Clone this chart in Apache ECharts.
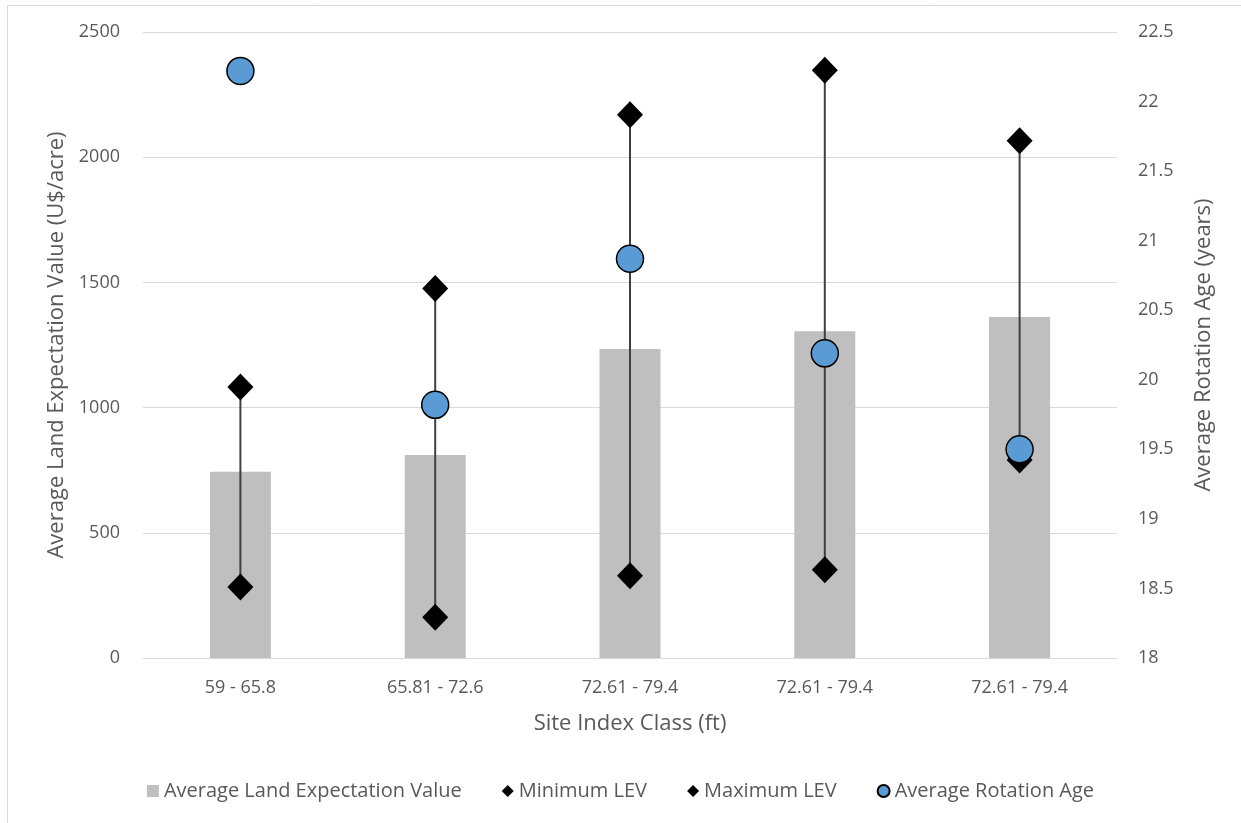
<!DOCTYPE html>
<html>
<head>
<meta charset="utf-8">
<title>Land Expectation Value by Site Index Class</title>
<script src="https://cdn.jsdelivr.net/npm/echarts@6/dist/echarts.min.js"></script>
<style>
  html, body { margin: 0; padding: 0; background: #ffffff; }
  #chart { width: 1241px; height: 823px; }
</style>
</head>
<body>
<div id="chart"></div>
<script>
// Site index classes (ft)
const categories = ['59 - 65.8', '65.81 - 72.6', '72.61 - 79.4', '72.61 - 79.4', '72.61 - 79.4'];
// Average land expectation value (U$/acre)
const avgLEV = [744, 811, 1234, 1305, 1362];
// Minimum and maximum LEV per class (U$/acre)
const minLEV = [284, 163, 328, 352, 791];
const maxLEV = [1082, 1476, 2170, 2347, 2066];
// Average rotation age (years)
const rotationAge = [22.22, 19.82, 20.87, 20.19, 19.50];
// Axis ticks
const levTicks = { min: 0, max: 2500, interval: 500 };
const ageTicks = { min: 18, max: 22.5, interval: 0.5 };

const FONT = 'Open Sans';
const TEXT = '#595959';
const GRID = '#d9d9d9';

const chart = echarts.init(document.getElementById('chart'), null, { renderer: 'canvas' });

const rangeData = categories.map((c, i) => [i, minLEV[i], maxLEV[i]]);

chart.setOption({
  backgroundColor: '#ffffff',
  animation: false,
  textStyle: { fontFamily: FONT, color: TEXT },
  graphic: [
    { type: 'line', shape: { x1: 7.5, y1: 5, x2: 7.5, y2: 823 }, style: { stroke: GRID, lineWidth: 1 }, silent: true },
    { type: 'line', shape: { x1: 7, y1: 5.5, x2: 1241, y2: 5.5 }, style: { stroke: GRID, lineWidth: 1 }, silent: true }
  ],
  grid: { left: 143, right: 124, top: 32, bottom: 165, containLabel: false },
  legend: {
    bottom: 17,
    left: 'center',
    itemWidth: 12,
    itemHeight: 12,
    itemGap: 40,
    textStyle: { fontFamily: FONT, fontSize: 20, color: TEXT },
    data: [
      { name: 'Average Land Expectation Value', icon: 'rect' },
      { name: 'Minimum LEV', icon: 'diamond' },
      { name: 'Maximum LEV', icon: 'diamond' },
      { name: 'Average Rotation Age', icon: 'circle' }
    ]
  },
  xAxis: {
    type: 'category',
    data: categories,
    name: 'Site Index Class (ft)',
    nameLocation: 'middle',
    nameGap: 55,
    nameTextStyle: { fontFamily: FONT, fontSize: 22, color: TEXT },
    axisLine: { lineStyle: { color: GRID, width: 1 } },
    axisTick: { show: false },
    axisLabel: { fontFamily: FONT, fontSize: 18, color: TEXT, margin: 21, interval: 0 }
  },
  yAxis: [
    {
      type: 'value',
      min: levTicks.min, max: levTicks.max, interval: levTicks.interval,
      name: 'Average Land Expectation Value (U$/acre)',
      nameLocation: 'middle',
      nameGap: 74,
      nameRotate: 90,
      nameTextStyle: { fontFamily: FONT, fontSize: 22, color: TEXT },
      axisLine: { show: false },
      axisTick: { show: false },
      axisLabel: { fontFamily: FONT, fontSize: 18, color: TEXT, margin: 23, formatter: v => String(v) },
      splitLine: { lineStyle: { color: GRID, width: 1 } }
    },
    {
      type: 'value',
      min: ageTicks.min, max: ageTicks.max, interval: ageTicks.interval,
      name: 'Average Rotation Age (years)',
      nameLocation: 'middle',
      nameGap: 76,
      nameRotate: 90,
      nameTextStyle: { fontFamily: FONT, fontSize: 22, color: TEXT },
      axisLine: { show: false },
      axisTick: { show: false },
      axisLabel: { fontFamily: FONT, fontSize: 18, color: TEXT, margin: 21, formatter: v => String(v) },
      splitLine: { show: false }
    }
  ],
  series: [
    {
      name: 'Average Land Expectation Value',
      type: 'bar',
      data: avgLEV,
      barWidth: 61,
      itemStyle: { color: '#bfbfbf' },
      z: 2
    },
    {
      name: 'High-Low',
      type: 'custom',
      data: rangeData,
      z: 3,
      silent: true,
      renderItem: function (params, api) {
        const lo = api.coord([api.value(0), api.value(1)]);
        const hi = api.coord([api.value(0), api.value(2)]);
        return {
          type: 'line',
          shape: { x1: lo[0], y1: lo[1], x2: hi[0], y2: hi[1] },
          style: { stroke: '#404040', lineWidth: 2 }
        };
      }
    },
    {
      name: 'Minimum LEV',
      type: 'scatter',
      data: minLEV,
      symbol: 'diamond',
      symbolSize: [26, 27],
      itemStyle: { color: '#000000', opacity: 1 },
      z: 4
    },
    {
      name: 'Maximum LEV',
      type: 'scatter',
      data: maxLEV,
      symbol: 'diamond',
      symbolSize: [26, 27],
      itemStyle: { color: '#000000', opacity: 1 },
      z: 4
    },
    {
      name: 'Average Rotation Age',
      type: 'scatter',
      yAxisIndex: 1,
      data: rotationAge,
      symbol: 'circle',
      symbolSize: 27,
      itemStyle: { color: '#5b9bd5', borderColor: '#000000', borderWidth: 1.5, opacity: 1 },
      z: 5
    }
  ]
});
</script>
</body>
</html>
